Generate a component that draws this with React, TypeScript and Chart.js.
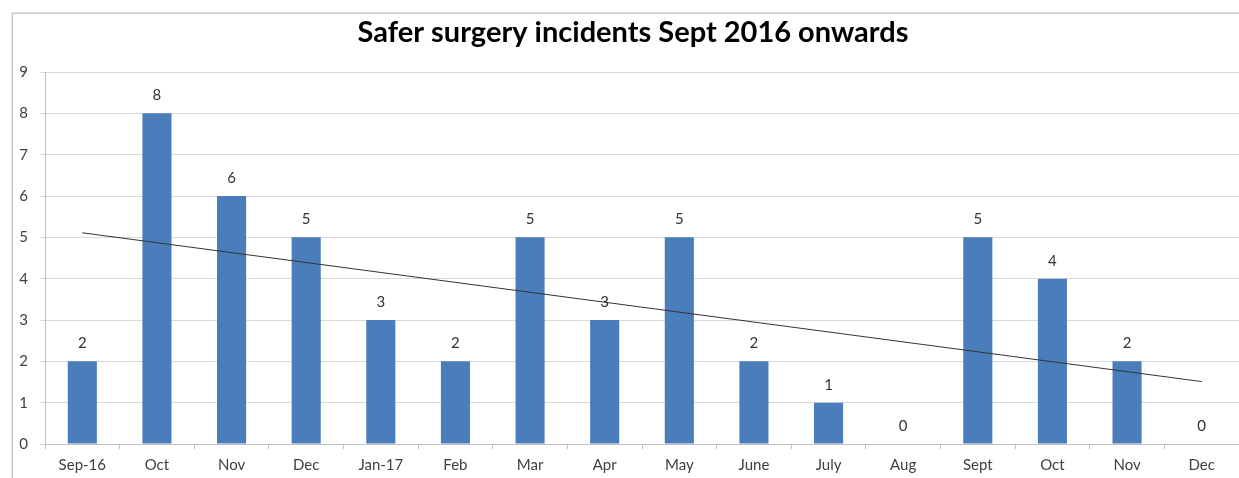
import React, { useEffect, useRef } from "react";
import { Chart, registerables } from "chart.js";

Chart.register(...registerables);

const titleText = "Safer surgery incidents Sept 2016 onwards";
const categories = ["Sep-16", "Oct", "Nov", "Dec", "Jan-17", "Feb", "Mar", "Apr", "May", "June", "July", "Aug", "Sept", "Oct", "Nov", "Dec"];
const incidents = [2, 8, 6, 5, 3, 2, 5, 3, 5, 2, 1, 0, 5, 4, 2, 0];
const trendStart = 5.11;
const trendEnd = 1.51;
const yTicks = [0, 1, 2, 3, 4, 5, 6, 7, 8, 9];

const trendData = categories.map((_, i) =>
  i === 0 ? trendStart : i === categories.length - 1 ? trendEnd : null
);

const framePlugin = {
  id: "frame",
  beforeDraw(chart: any) {
    const ctx = chart.ctx;
    ctx.save();
    ctx.fillStyle = "#ffffff";
    ctx.fillRect(0, 0, chart.width, chart.height);
    ctx.strokeStyle = "#c8c8c8";
    ctx.lineWidth = 1.5;
    ctx.beginPath();
    ctx.moveTo(12.25, chart.height);
    ctx.lineTo(12.25, 13.25);
    ctx.lineTo(chart.width, 13.25);
    ctx.stroke();
    ctx.fillStyle = "#000000";
    ctx.font = "bold 29px Lato";
    ctx.textAlign = "center";
    ctx.textBaseline = "middle";
    ctx.fillText(titleText, 633, 33);
    ctx.restore();
  },
};

const labelPlugin = {
  id: "barLabels",
  afterDatasetsDraw(chart: any) {
    const ctx = chart.ctx;
    const meta = chart.getDatasetMeta(1);
    ctx.save();
    ctx.fillStyle = "#333333";
    ctx.font = "15px Lato";
    ctx.textAlign = "center";
    ctx.textBaseline = "middle";
    meta.data.forEach((bar: any, i: number) => {
      ctx.fillText(String(incidents[i]), bar.x, bar.y - 18);
    });
    ctx.restore();
  },
};

export default function App() {
  const ref = useRef<HTMLCanvasElement>(null);
  useEffect(() => {
    if (!ref.current) return;
    const chart = new Chart(ref.current, {
      type: "bar",
      data: {
        labels: categories,
        datasets: [
          {
            type: "line",
            data: trendData,
            borderColor: "#333333",
            borderWidth: 1,
            pointRadius: 0,
            spanGaps: true,
            fill: false,
            order: 0,
          } as any,
          {
            type: "bar",
            data: incidents,
            backgroundColor: "#4a7ebb",
            borderWidth: 0,
            categoryPercentage: 1,
            barPercentage: 0.39,
            order: 1,
          },
        ],
      },
      options: {
        responsive: false,
        animation: false,
        layout: { padding: { left: 0, top: 72, right: 0, bottom: 0 } },
        plugins: { legend: { display: false }, tooltip: { enabled: false }, title: { display: false } },
        scales: {
          x: {
            offset: true,
            grid: { offset: true, drawOnChartArea: false, drawTicks: true, tickLength: 5, color: "#bfbfbf" },
            border: { display: true, color: "#bfbfbf" },
            ticks: { color: "#404040", font: { family: "Lato", size: 15 }, padding: 7, maxRotation: 0, autoSkip: false },
            afterFit: (s: any) => { s.height = 34; },
          },
          y: {
            min: 0,
            max: 9,
            afterBuildTicks: (s: any) => { s.ticks = yTicks.map((v) => ({ value: v })); },
            grid: { color: "#d9d9d9", tickLength: 5 },
            border: { display: true, color: "#bfbfbf" },
            ticks: { color: "#404040", font: { family: "Lato", size: 15 }, padding: 12 },
            afterFit: (s: any) => { s.width = 45; },
          },
        },
      },
      plugins: [framePlugin, labelPlugin],
    });
    return () => chart.destroy();
  }, []);
  return (
    <div style={{ position: "fixed", left: 0, top: 0, width: 1239, height: 478, overflow: "hidden", background: "#fff" }}>
      <canvas ref={ref} width={1239} height={478} style={{ display: "block" }} />
    </div>
  );
}
